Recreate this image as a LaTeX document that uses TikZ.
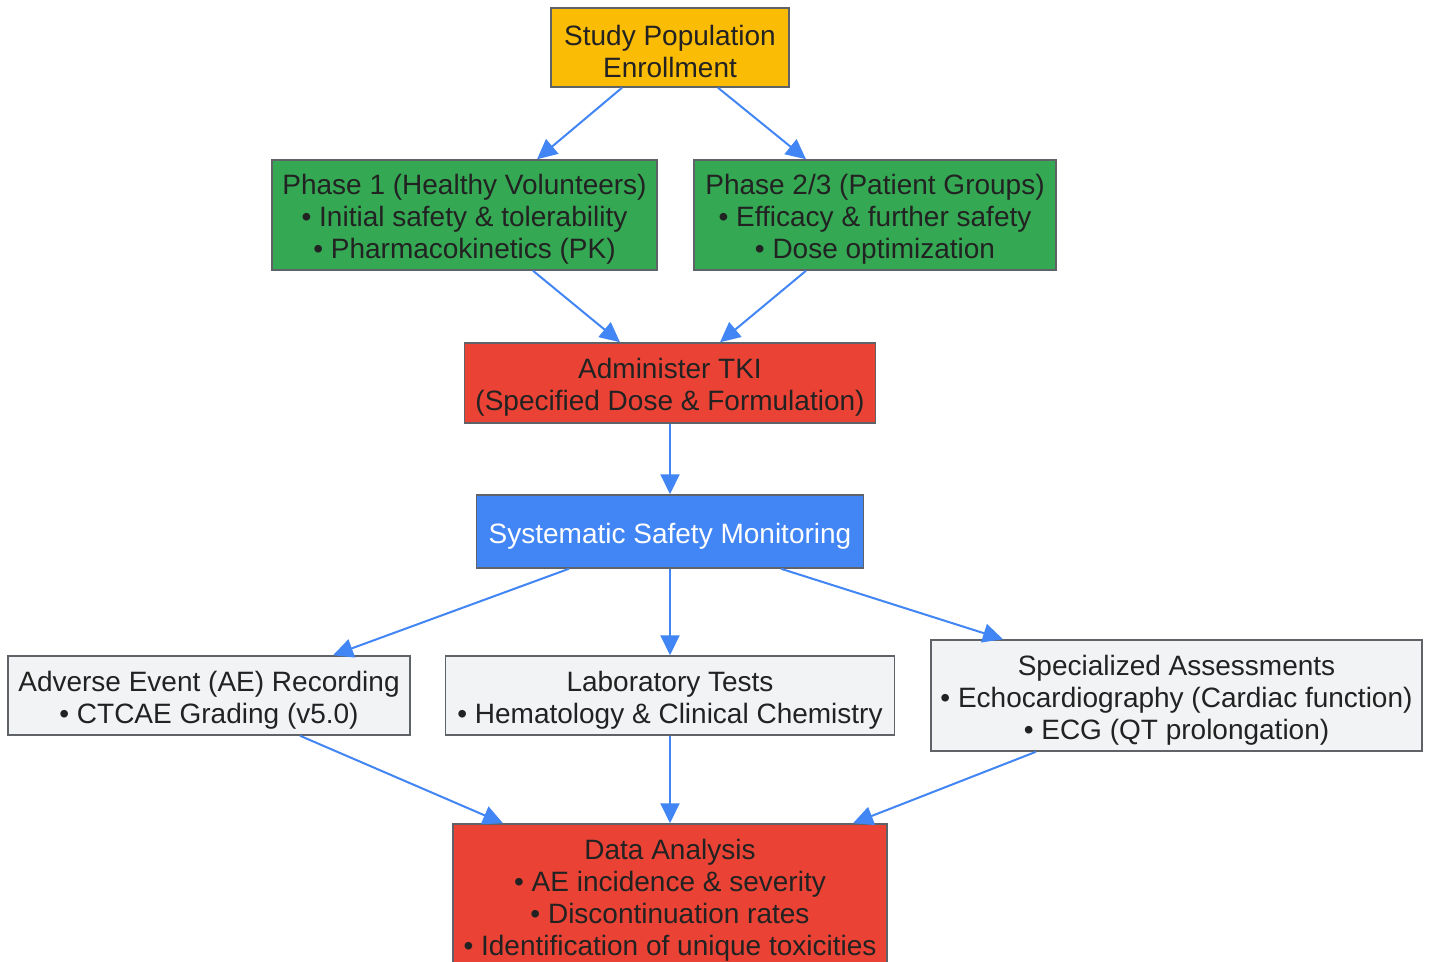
\documentclass[tikz,border=0pt]{standalone}
\usepackage{fontspec}
\setmainfont{Liberation Sans}
\usetikzlibrary{arrows.meta}
\definecolor{ylw}{HTML}{FBBC05}
\definecolor{grn}{HTML}{34A853}
\definecolor{rd}{HTML}{EA4335}
\definecolor{blu}{HTML}{4285F4}
\definecolor{lgray}{HTML}{F1F3F4}
\definecolor{bordergray}{HTML}{5F6368}
\definecolor{txt}{HTML}{222222}
\definecolor{arrblue}{HTML}{4285F4}
\newcommand\tp{\rule{0pt}{29pt}}
\tikzset{
  box/.style={draw=bordergray, line width=1.5pt, inner sep=0pt, align=center,
    font=\fontsize{28}{32}\selectfont, text=txt},
  arr/.style={draw=arrblue, line width=2pt, -{Triangle[length=20pt,width=19pt]}}
}
\begin{document}
\begin{tikzpicture}[x=1pt,y=-1pt]
\clip (0,0) rectangle (1431,961);
\fill[white] (0,0) rectangle (1431,961);
\node[box, fill=ylw, minimum width=238pt, minimum height=79pt] (study) at (670,47.5) {\tp Study Population\\Enrollment};
\node[box, fill=grn, minimum width=385pt, minimum height=110pt] (p1) at (464.5,215) {\tp Phase 1 (Healthy Volunteers)\\• Initial safety \& tolerability\\• Pharmacokinetics (PK)};
\node[box, fill=grn, minimum width=362pt, minimum height=110pt] (p2) at (875,215) {\tp Phase 2/3 (Patient Groups)\\• Efficacy \& further safety\\• Dose optimization};
\node[box, fill=rd, minimum width=411pt, minimum height=80pt] (admin) at (670,383) {\tp Administer TKI\\(Specified Dose \& Formulation)};
\node[box, fill=blu, text=white, minimum width=387pt, minimum height=73pt] (sys) at (670,531.5) {\tp Systematic Safety Monitoring};
\node[box, fill=lgray, minimum width=402pt, minimum height=79pt] (ae) at (209,695.5) {\tp Adverse Event (AE) Recording\\• CTCAE Grading (v5.0)};
\node[box, fill=lgray, minimum width=449pt, minimum height=79pt] (lab) at (670,695.5) {\tp Laboratory Tests\\• Hematology \& Clinical Chemistry};
\node[box, fill=lgray, minimum width=491pt, minimum height=111pt] (spec) at (1176.5,695.5) {\tp Specialized Assessments\\• Echocardiography (Cardiac function)\\• ECG (QT prolongation)};
\node[box, fill=rd, minimum width=434pt, minimum height=144pt] (data) at (670,896) {\tp Data Analysis\\• AE incidence \& severity\\• Discontinuation rates\\• Identification of unique toxicities};
\draw[arr] ([xshift=-48pt]study.south) -- ([xshift=72.5pt]p1.north);
\draw[arr] ([xshift=48pt]study.south) -- ([xshift=-69pt]p2.north);
\draw[arr] ([xshift=68.5pt]p1.south) -- ([xshift=-50pt]admin.north);
\draw[arr] ([xshift=-69pt]p2.south) -- ([xshift=50pt]admin.north);
\draw[arr] (admin.south) -- (sys.north);
\draw[arr] ([xshift=-101pt]sys.south) -- ([xshift=124pt]ae.north);
\draw[arr] (sys.south) -- (lab.north);
\draw[arr] ([xshift=111pt]sys.south) -- ([xshift=-173.5pt]spec.north);
\draw[arr] ([xshift=91pt]ae.south) -- ([xshift=-167pt]data.north);
\draw[arr] (lab.south) -- (data.north);
\draw[arr] ([xshift=-140.5pt]spec.south) -- ([xshift=183pt]data.north);
\end{tikzpicture}
\end{document}
